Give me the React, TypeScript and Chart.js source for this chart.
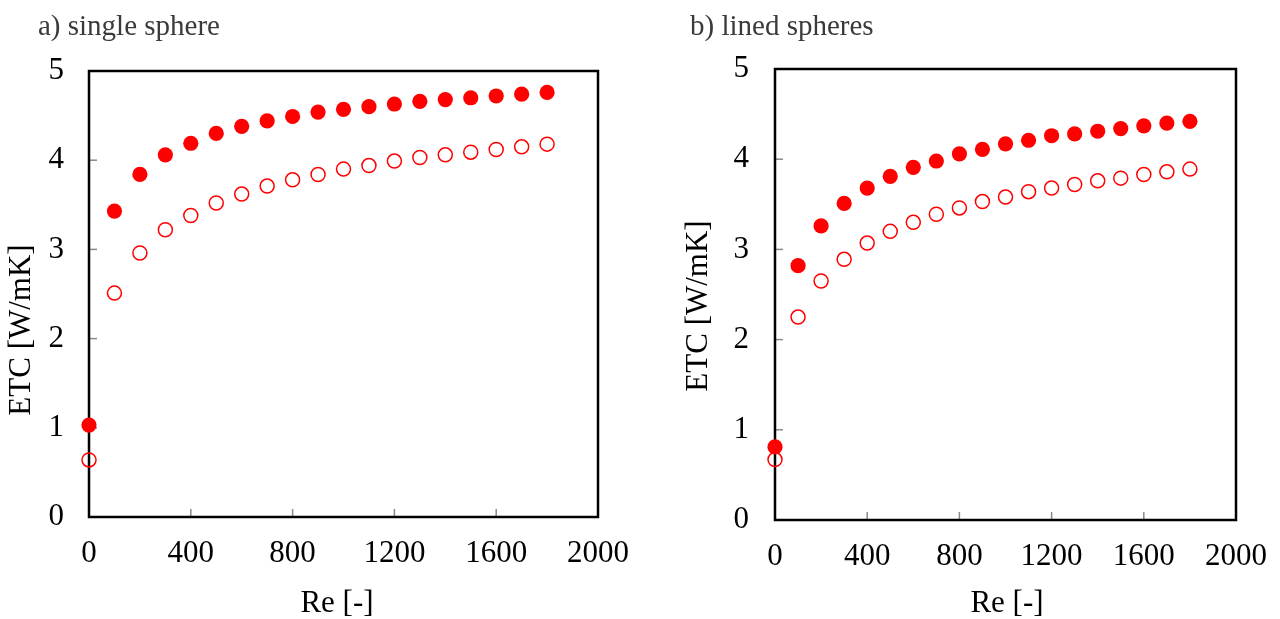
import React, { useEffect, useRef } from "react";
import { Chart, registerables } from "chart.js";

Chart.register(...registerables);

// Reynolds numbers (x values)
const reNumbers = [0, 100, 200, 300, 400, 500, 600, 700, 800, 900, 1000, 1100, 1200, 1300, 1400, 1500, 1600, 1700, 1800];

// a) single sphere
const singleSphereFilled = [1.03, 3.43, 3.84, 4.06, 4.19, 4.30, 4.38, 4.44, 4.49, 4.54, 4.57, 4.60, 4.63, 4.66, 4.68, 4.70, 4.72, 4.74, 4.76];
const singleSphereOpen = [0.64, 2.51, 2.96, 3.22, 3.38, 3.52, 3.62, 3.71, 3.78, 3.84, 3.90, 3.94, 3.99, 4.03, 4.06, 4.09, 4.12, 4.15, 4.18];

// b) lined spheres
const linedSpheresFilled = [0.81, 2.82, 3.26, 3.51, 3.68, 3.81, 3.91, 3.98, 4.06, 4.11, 4.17, 4.21, 4.26, 4.28, 4.31, 4.34, 4.37, 4.40, 4.42];
const linedSpheresOpen = [0.67, 2.25, 2.65, 2.89, 3.07, 3.20, 3.30, 3.39, 3.46, 3.53, 3.58, 3.64, 3.68, 3.72, 3.76, 3.79, 3.83, 3.86, 3.89];

const xAxisTitle = "Re [-]";
const yAxisTitle = "ETC [W/mK]";
const xMin = 0, xMax = 2000, xStep = 400;
const yMin = 0, yMax = 5, yStep = 1;

const SERIF = "'Liberation Serif', 'Times New Roman', serif";

const framePlugin = {
  id: "frameTicks",
  beforeDatasetsDraw(chart: any) {
    const { ctx, chartArea: a, scales } = chart;
    const x = scales.x, y = scales.y;
    ctx.save();
    ctx.strokeStyle = "#8a8a8a";
    ctx.lineWidth = 1.5;
    x.ticks.forEach((t: any) => {
      if (t.value > xMin && t.value < xMax) {
        const px = x.getPixelForValue(t.value);
        ctx.beginPath();
        ctx.moveTo(px, a.bottom);
        ctx.lineTo(px, a.bottom - 8);
        ctx.stroke();
      }
    });
    y.ticks.forEach((t: any) => {
      if (t.value > yMin && t.value < yMax) {
        const py = y.getPixelForValue(t.value);
        ctx.beginPath();
        ctx.moveTo(a.left, py);
        ctx.lineTo(a.left + 8, py);
        ctx.stroke();
      }
    });
    ctx.strokeStyle = "#000";
    ctx.lineWidth = 2.5;
    ctx.strokeRect(a.left, a.top, a.right - a.left, a.bottom - a.top);
    ctx.restore();
  },
};

const textPlugin = {
  id: "panelTexts",
  afterDraw(chart: any, _args: any, opts: any) {
    const { ctx } = chart;
    ctx.save();
    // panel caption
    ctx.font = `29px ${SERIF}`;
    ctx.fillStyle = "#3a3a3a";
    ctx.textBaseline = "alphabetic";
    ctx.textAlign = "left";
    ctx.fillText(opts.caption, opts.captionX, 35);
    // x axis title
    ctx.fillStyle = "#000";
    ctx.font = `31px ${SERIF}`;
    ctx.textAlign = "center";
    ctx.fillText(xAxisTitle, opts.xTitleX, 612);
    // y axis title
    ctx.translate(opts.yTitleX, opts.yTitleY);
    ctx.rotate(-Math.PI / 2);
    ctx.fillText(yAxisTitle, 0, 0);
    ctx.restore();
  },
};

type PanelProps = {
  caption: string;
  filled: number[];
  open: number[];
  left: number;
  pad: { right: number; top: number };
  yWidth: number;
  xHeight: number;
  captionX: number;
  xTitleX: number;
  yTitleX: number;
  yTitleY: number;
  yTickPad: number;
};

function Panel(p: PanelProps) {
  const ref = useRef<HTMLCanvasElement | null>(null);
  useEffect(() => {
    if (!ref.current) return;
    const chart = new Chart(ref.current, {
      type: "scatter",
      data: {
        datasets: [
          {
            label: "filled",
            data: reNumbers.map((r, i) => ({ x: r, y: p.filled[i] })),
            pointStyle: "circle",
            pointRadius: 7.6,
            backgroundColor: "#ff0000",
            borderColor: "#ff0000",
            borderWidth: 0,
          },
          {
            label: "open",
            data: reNumbers.map((r, i) => ({ x: r, y: p.open[i] })),
            pointStyle: "circle",
            pointRadius: 7,
            backgroundColor: "rgba(255,255,255,0)",
            borderColor: "#ff0000",
            borderWidth: 1.5,
          },
        ],
      },
      options: {
        responsive: false,
        animation: false,
        events: [],
        clip: false as any,
        layout: { padding: { left: 0, right: p.pad.right, top: p.pad.top, bottom: 0 } },
        plugins: {
          legend: { display: false },
          tooltip: { enabled: false },
          panelTexts: {
            caption: p.caption,
            captionX: p.captionX,
            xTitleX: p.xTitleX,
            yTitleX: p.yTitleX,
            yTitleY: p.yTitleY,
          },
        } as any,
        scales: {
          x: {
            type: "linear",
            min: xMin,
            max: xMax,
            grid: { display: false, drawTicks: false },
            border: { display: false },
            ticks: {
              stepSize: xStep,
              padding: 18,
              color: "#000",
              font: { family: SERIF, size: 31 },
              maxRotation: 0,
              callback: (v: any) => String(v),
            },
            title: { display: false },
            afterFit: (s: any) => {
              s.height = p.xHeight;
              s.paddingLeft = 0;
              s.paddingRight = 0;
            },
          },
          y: {
            type: "linear",
            min: yMin,
            max: yMax,
            grid: { display: false, drawTicks: false },
            border: { display: false },
            ticks: {
              stepSize: yStep,
              padding: p.yTickPad,
              color: "#000",
              font: { family: SERIF, size: 31 },
              callback: (v: any) => String(v),
            },
            title: { display: false },
            afterFit: (s: any) => {
              s.width = p.yWidth;
              s.paddingTop = 0;
              s.paddingBottom = 0;
            },
          },
        },
      },
      plugins: [framePlugin, textPlugin],
    });
    return () => chart.destroy();
  }, []);
  return (
    <div style={{ position: "absolute", left: p.left, top: 0, width: 640, height: 619 }}>
      <canvas ref={ref} width={640} height={619} style={{ display: "block" }} />
    </div>
  );
}

export default function App() {
  return (
    <div style={{ position: "absolute", left: 0, top: 0, width: 1280, height: 619, background: "#fff" }}>
      <Panel
        caption="a) single sphere"
        filled={singleSphereFilled}
        open={singleSphereOpen}
        left={0}
        pad={{ right: 42, top: 71 }}
        yWidth={89}
        xHeight={102}
        captionX={38}
        xTitleX={337}
        yTitleX={30}
        yTitleY={330}
        yTickPad={25}
      />
      <Panel
        caption="b) lined spheres"
        filled={linedSpheresFilled}
        open={linedSpheresOpen}
        left={640}
        pad={{ right: 44, top: 69 }}
        yWidth={135}
        xHeight={99}
        captionX={50}
        xTitleX={367}
        yTitleX={67}
        yTitleY={306}
        yTickPad={26}
      />
    </div>
  );
}
